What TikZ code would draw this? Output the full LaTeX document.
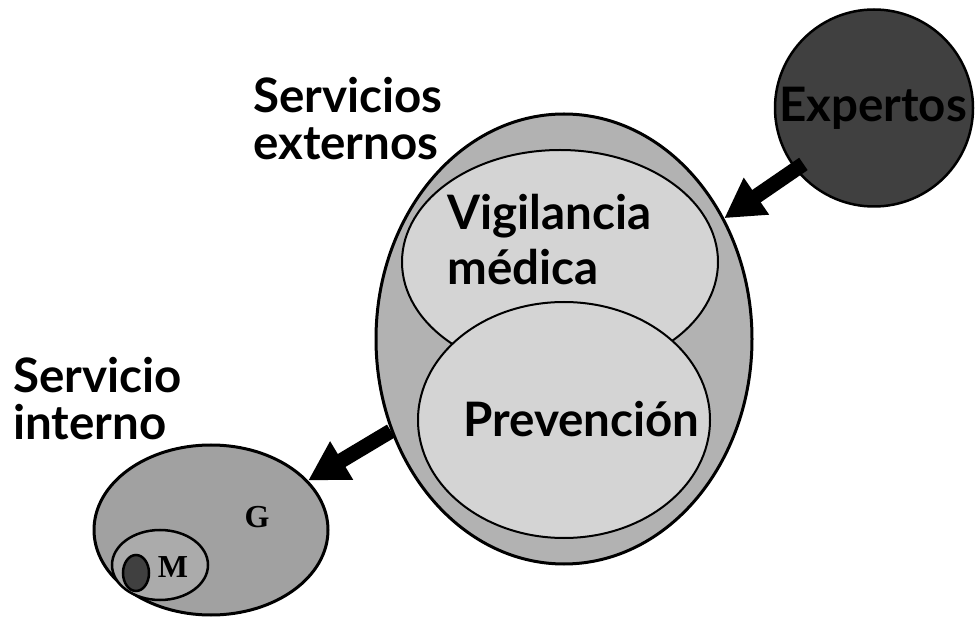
\documentclass[tikz,border=0pt]{standalone}
\usepackage{fontspec}
\newfontfamily\comicfont{Lato}
\newfontfamily\timesfont{Liberation Serif}
\usetikzlibrary{shapes.geometric,arrows.meta}

\begin{document}
\begin{tikzpicture}[x=1pt,y=-1pt,
    blob/.style={ellipse, draw=black, inner sep=0pt},
    bigtext/.style={anchor=base west, inner sep=0pt, font=\comicfont\bfseries\fontsize{47.5}{47.5}\selectfont},
    letter/.style={inner sep=0pt, font=\timesfont\bfseries\fontsize{32}{32}\selectfont},
    fatarrow/.style={line width=15pt, -{Triangle[width=42pt,length=39pt]}}]
    \useasboundingbox (0,0) rectangle (975,617);

    % Servicios externos
    \node[blob, line width=3pt, fill=black!30, minimum width=376pt, minimum height=450pt] (externos) at (564,339) {};
    \node[blob, line width=2pt, fill=black!17, minimum width=316pt, minimum height=224pt] (vigilancia) at (560,262) {};
    \node[blob, line width=2pt, fill=black!17, minimum width=292pt, minimum height=236pt] (prevencion) at (564,420) {};
    % Expertos
    \node[blob, line width=2.5pt, fill=black!75, minimum width=198pt, minimum height=197pt] (expertos) at (874,108) {};
    % Servicio interno
    \node[blob, line width=3pt, fill=black!37, minimum width=234pt, minimum height=170pt] (interno) at (211,530) {};
    \node[blob, line width=2.5pt, fill=black!33, minimum width=96pt, minimum height=70pt] (mini) at (160,565) {};
    \node[blob, line width=2.5pt, fill=black!75, minimum width=26pt, minimum height=36pt] (punto) at (136,573) {};

    % Text Node
    \node[bigtext] (txtServicios) at (253,113) {Servicios};
    \node[bigtext] (txtExternos) at (253,160) {externos};
    \node[bigtext] (txtVigilancia) at (447,230) {Vigilancia};
    \node[bigtext] (txtMedica) at (447,285) {médica};
    \node[bigtext] (txtPrevencion) at (463,437) {Prevención};
    \node[bigtext] (txtExpertos) at (779,122) {Expertos};
    \node[bigtext] (txtServicio) at (13,393) {Servicio};
    \node[bigtext] (txtInterno) at (13,440) {interno};
    \node[letter] (txtG) at (257,517) {G};
    \node[letter] (txtM) at (173,567) {M};

    % Connection
    \draw[fatarrow, shorten <=-10pt] (expertos.218) -- (externos.37);
    % Connection
    \draw[fatarrow] (externos.208) -- (interno.27);

\end{tikzpicture}
\end{document}
